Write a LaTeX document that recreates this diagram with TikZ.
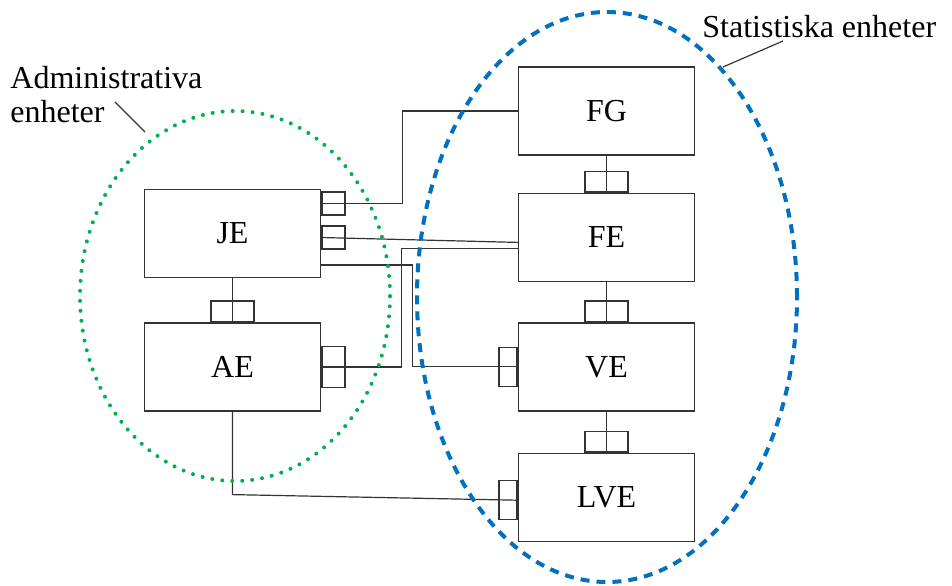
\documentclass[tikz,border=0pt]{standalone}
\usepackage{fontspec}
\setmainfont{Liberation Serif}
\usetikzlibrary{positioning}
\definecolor{admgreen}{RGB}{0,176,80}
\definecolor{statblue}{RGB}{0,112,192}

\begin{document}
\begin{tikzpicture}[x=0.5pt, y=-0.5pt,
    box/.style={draw=black!80, line width=0.7pt, minimum width=88pt, minimum height=44pt, inner sep=0pt, font=\fontsize{16}{19}\selectfont},
    hport/.style={draw=black!80, line width=0.7pt, minimum width=11.5pt, minimum height=11.5pt, inner sep=0pt},
    sport/.style={draw=black!80, line width=0.7pt, minimum width=11.5pt, minimum height=20.5pt, inner sep=0pt},
    lport/.style={draw=black!80, line width=0.7pt, minimum width=9pt, minimum height=19.5pt, inner sep=0pt},
    vport/.style={draw=black!80, line width=0.7pt, minimum width=21.5pt, minimum height=10.25pt, inner sep=0pt},
    wire/.style={black!80, line width=0.6pt},
    lbl/.style={inner sep=0pt, align=left, font=\fontsize{16}{17}\selectfont}
  ]
  \useasboundingbox (0,0) rectangle (952,585);
  % administrative units
  \node[box] (JE) at (232.5,233.5) {JE};
  \node[box, below=22pt of JE] (AE) {AE};
  % statistical units
  \node[box] (FG) at (606.5,111) {FG};
  \node[box, below=18.5pt of FG] (FE) {FE};
  \node[box, below=20pt of FE] (VE) {VE};
  \node[box, below=20.5pt of VE] (LVE) {LVE};
  % ports
  \node[vport, anchor=south] (pJA) at (AE.north) {};
  \node[vport, anchor=south] (pGE) at (FE.north) {};
  \node[vport, anchor=south] (pEV) at (VE.north) {};
  \node[vport, anchor=south] (pVL) at (LVE.north) {};
  \node[hport, anchor=north west] (pJ1) at ([yshift=-1.25pt]JE.north east) {};
  \node[hport, anchor=north west] (pJ2) at ([yshift=-18.25pt]JE.north east) {};
  \node[sport, anchor=west] (pA) at (AE.east) {};
  \node[lport, anchor=east] (pV) at (VE.west) {};
  \node[lport, anchor=east] (pL) at ([yshift=-1.5pt]LVE.west) {};
  % links
  \draw[wire] (JE.south) -- (AE.north);
  \draw[wire] (FG.south) -- (FE.north);
  \draw[wire] (FE.south) -- (VE.north);
  \draw[wire] (VE.south) -- (LVE.north);
  \draw[wire] (pJ1.west) -- ++(81,0) |- (FG.west);
  \draw[wire] (pJ2.west) -- ([yshift=-2.5pt]FE.west);
  \draw[wire] ([yshift=-5.5pt]FE.west) -- ++(-116,0) |- (pA.west);
  \draw[wire] ([yshift=-15.75pt]JE.east) -- ++(91,0) |- (pV.east);
  \draw[wire] (AE.south) -- ++(0,83) -- (pL.east);
  % groups
  \draw[admgreen, line width=2pt, line cap=round, dash pattern=on 0pt off 5pt] (235,296) ellipse [x radius=77.5pt, y radius=92.5pt];
  \draw[statblue, line width=2pt, dash pattern=on 4.5pt off 3.5pt] (607,297) ellipse [x radius=95pt, y radius=142.5pt];
  % labels
  \node[lbl, anchor=north west] (adm) at (10,66) {Administrativa\\enheter};
  \node[lbl, anchor=base west] (stat) at (702,37) {Statistiska enheter};
  \coordinate (admA) at (115,102);
  \coordinate (admB) at (145,132);
  \coordinate (statA) at (783,41);
  \coordinate (statB) at (723,67);
  \draw[wire] (admA) -- (admB);
  \draw[wire] (statA) -- (statB);
\end{tikzpicture}
\end{document}
